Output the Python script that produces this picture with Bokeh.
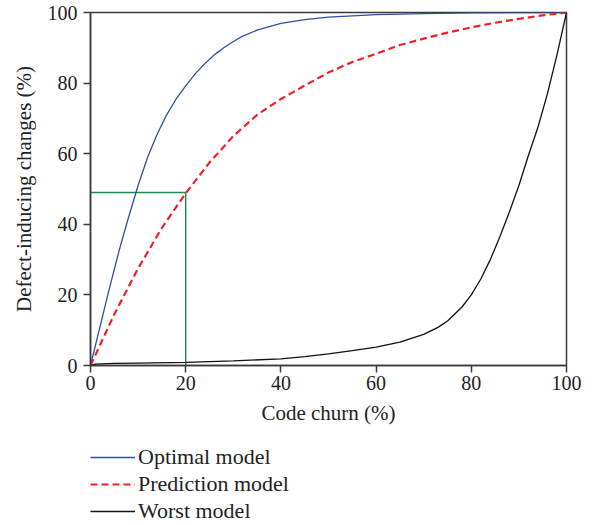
from bokeh.plotting import figure
from bokeh.models import Legend, LegendItem, FixedTicker
from bokeh.layouts import column
from bokeh.embed import file_html
from bokeh.resources import INLINE

# Data
optimal_x = [0, 2, 4, 6, 8, 10, 12, 14, 16, 18, 20, 22, 24, 26, 28, 30, 32, 35, 40, 45, 50, 60, 70, 80, 90, 100]
optimal_y = [0, 11, 22, 32.5, 42, 51, 59, 65.5, 71, 75.5, 79.2, 82.6, 85.5, 88, 90, 91.8, 93.3, 95, 96.9, 98, 98.7, 99.4, 99.7, 99.9, 100, 100]

prediction_x = [0, 5, 10, 15, 20, 25, 30, 35, 40, 45, 50, 55, 60, 65, 70, 75, 80, 85, 90, 95, 100]
prediction_y = [0, 14.5, 27.5, 39, 48.8, 57.5, 65, 71, 75.5, 79.3, 83, 86, 88.3, 90.8, 92.6, 94.3, 95.8, 97.1, 98.2, 99.2, 100]

worst_x = [0, 1, 5, 10, 20, 30, 40, 45, 50, 55, 60, 65, 70, 73, 75, 78, 80, 82, 84, 86, 88, 90, 92, 94, 96, 98, 100]
worst_y = [0, 0.4, 0.6, 0.7, 0.9, 1.3, 1.9, 2.5, 3.3, 4.2, 5.2, 6.6, 8.8, 10.8, 12.6, 16.5, 20, 24.5, 30, 36.5, 43.5, 51, 59.5, 67.5, 77, 88, 100]

cutoff_x = [0, 20, 20]
cutoff_y = [49, 49, 0]

x_ticks = [0, 20, 40, 60, 80, 100]
y_ticks = [0, 20, 40, 60, 80, 100]

series_names = ["Optimal model", "Prediction model", "Worst model"]

FONT = "Liberation Serif"
AXIS_COLOR = "#3a3a3a"
TEXT_COLOR = "#222222"
STYLES = [
    dict(line_color="#2f4fa8", line_width=1.3),
    dict(line_color="#f0202a", line_width=2.2, line_dash="7 4"),
    dict(line_color="#111111", line_width=1.3),
]

p = figure(
    frame_width=476, frame_height=353,
    min_border_left=90, min_border_top=12, min_border_right=28, min_border_bottom=70,
    x_range=(0, 100), y_range=(0, 100),
    output_backend="svg", toolbar_location=None,
    x_axis_label="Code churn (%)", y_axis_label="Defect-inducing changes (%)",
)

p.grid.visible = False
p.outline_line_color = AXIS_COLOR
p.outline_line_width = 1.5
p.outline_line_alpha = 1.0

for ax in (p.xaxis[0], p.yaxis[0]):
    ax.axis_line_color = AXIS_COLOR
    ax.axis_line_width = 1.5
    ax.major_tick_line_color = AXIS_COLOR
    ax.major_tick_line_width = 1.5
    ax.major_tick_out = 7
    ax.major_tick_in = 0
    ax.minor_tick_line_color = None
    ax.major_label_text_font = FONT
    ax.major_label_text_font_size = "20px"
    ax.major_label_text_color = TEXT_COLOR
    ax.axis_label_text_font = FONT
    ax.axis_label_text_font_size = "21px"
    ax.axis_label_text_font_style = "normal"
    ax.axis_label_text_color = TEXT_COLOR

p.xaxis[0].ticker = FixedTicker(ticks=x_ticks)
p.yaxis[0].ticker = FixedTicker(ticks=y_ticks)
p.xaxis[0].major_label_standoff = 3
p.xaxis[0].axis_label_standoff = 8
p.yaxis[0].major_label_standoff = 6
p.yaxis[0].axis_label_standoff = 9

p.line(cutoff_x, cutoff_y, line_color="#1f8a4c", line_width=1.4)
p.line(optimal_x, optimal_y, **STYLES[0])
p.line(prediction_x, prediction_y, **STYLES[1])
p.line(worst_x, worst_y, **STYLES[2])

# Legend panel below the chart: same series drawn in a view whose ranges
# keep them out of sight, so only the legend entries show.
lg = figure(
    width=594, height=90, x_range=(-200, -100), y_range=(-200, -100),
    min_border=0, output_backend="svg", toolbar_location=None,
)
lg.axis.visible = False
lg.grid.visible = False
lg.outline_line_color = None
r_opt = lg.line(optimal_x, optimal_y, **STYLES[0])
r_pred = lg.line(prediction_x, prediction_y, **STYLES[1])
r_worst = lg.line(worst_x, worst_y, **STYLES[2])

legend = Legend(
    items=[
        LegendItem(label=series_names[0], renderers=[r_opt]),
        LegendItem(label=series_names[1], renderers=[r_pred]),
        LegendItem(label=series_names[2], renderers=[r_worst]),
    ],
    location=(0, 1),
    orientation="vertical",
    padding=0, margin=0, spacing=1,
    glyph_width=45, glyph_height=20, label_height=20,
    label_standoff=3,
    label_text_font=FONT, label_text_font_size="22px", label_text_color=TEXT_COLOR,
    background_fill_alpha=0, border_line_color=None,
)
lg.add_layout(legend, "center")

layout = column(p, lg, spacing=0)
open("out.html", "w").write(file_html(layout, INLINE))
